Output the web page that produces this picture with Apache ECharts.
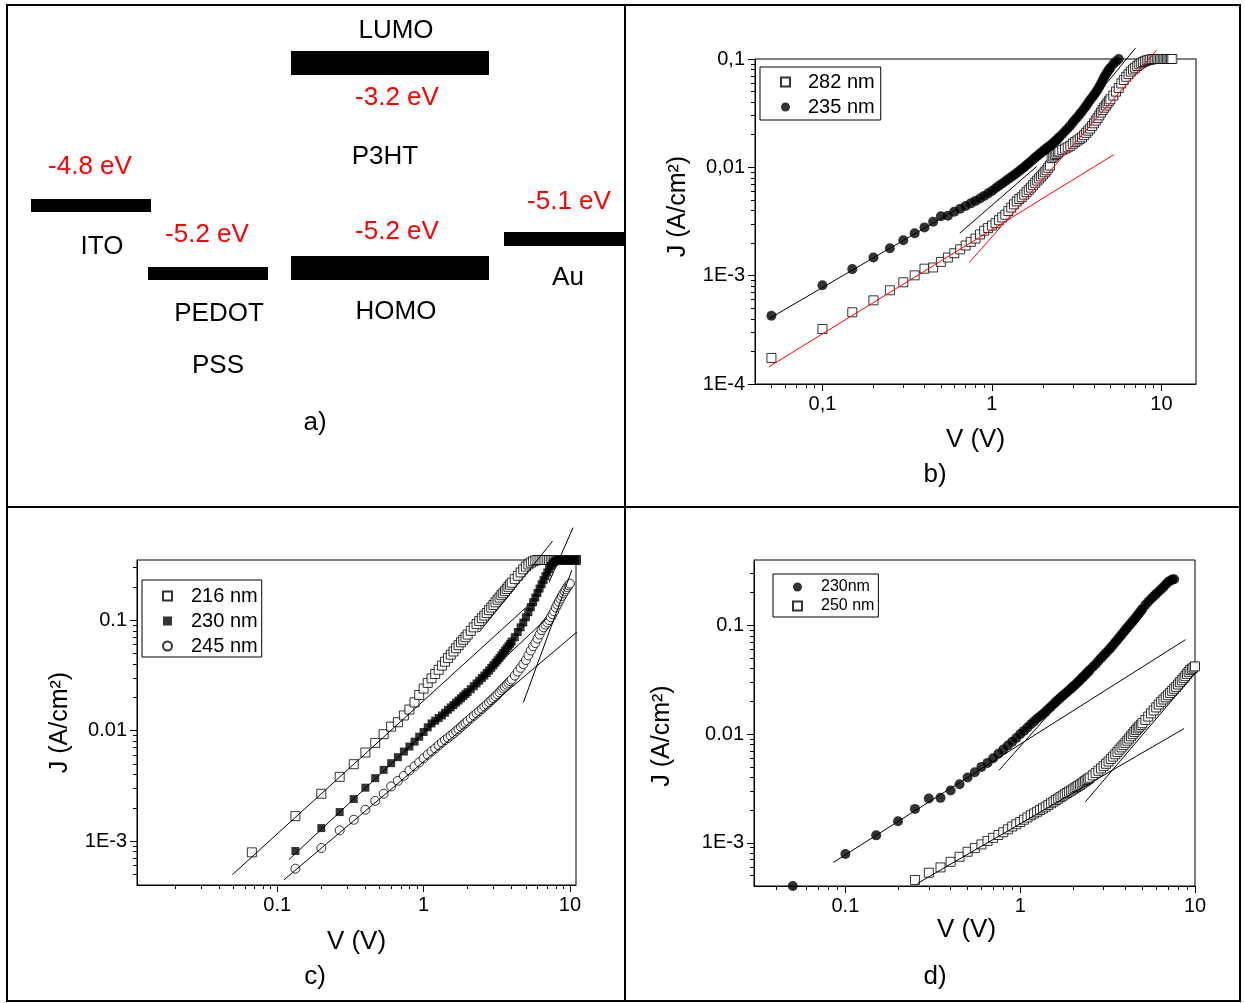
<!DOCTYPE html>
<html><head><meta charset="utf-8">
<script src="https://cdn.jsdelivr.net/npm/echarts@6.0.0/dist/echarts.min.js"></script>
<style>html,body{margin:0;padding:0;background:#fff}#chart{width:1245px;height:1003px}</style>
</head><body><div id="chart"></div>
<script>
// ---------- Panel a: energy levels (eV) ----------
const levelNames = ['ITO', 'PEDOT', 'LUMO', 'HOMO', 'Au'];
const levelEnergies = [-4.8, -5.2, -3.2, -5.2, -5.1];

// ---------- Panel b ----------
const vB = [0.05,0.1,0.15,0.2,0.25,0.3,0.35,0.4,0.45,0.5,0.55,0.6,0.65,0.7,0.75,0.8,0.85,0.9,0.95,1.0,1.05,1.1,1.15,1.2,1.25,1.3,1.35,1.4,1.45,1.5,
  1.55,1.6,1.65,1.7,1.75,1.8,1.85,1.9,1.95,2.0,2.05,2.1,2.15,2.2,2.25,2.3,2.35,2.4,2.45,2.5,
  2.6,2.7,2.8,2.9,3.0,3.1,3.2,3.3,3.4,3.5,3.6,3.7,3.8,3.9,4.0,4.1,4.2,4.3,4.4,4.5,4.6,4.7,4.8,4.9,5.0,
  5.2,5.4,5.6,5.8,6.0,6.2,6.4,6.6,6.8,7.0,7.2,7.4,7.6,7.8,8.0,8.2,8.4,8.6,8.8,9.0,9.2,9.4,9.6,9.8,10.0,10.2,10.4,10.6,10.8,11.0,11.2,11.4,11.6];
const jB282 = [1.74e-4,3.22e-4,4.59e-4,5.92e-4,7.33e-4,8.68e-4,1.007e-3,1.16e-3,1.19e-3,1.34e-3,1.47e-3,1.61e-3,1.75e-3,1.9e-3,2.05e-3,2.2e-3,2.4e-3,2.6e-3,2.75e-3,2.9e-3,3.05e-3,3.25e-3,3.45e-3,3.65e-3,3.95e-3,4.25e-3,4.55e-3,4.85e-3,5.1e-3,5.3e-3,
  5.6e-3,5.9e-3,6.2e-3,6.5e-3,6.85e-3,7.2e-3,7.55e-3,7.9e-3,8.25e-3,8.6e-3,9.0e-3,9.4e-3,9.9e-3,0.0104,0.0122,0.0126,0.0130,0.0133,0.0137,0.0140,
  0.0145,0.0149,0.0153,0.0158,0.0165,0.0171,0.0177,0.0183,0.0189,0.0198,0.0208,0.0218,0.0228,0.0241,0.0255,0.0270,0.0285,0.0302,0.032,0.0338,0.0355,0.0372,0.039,0.0408,0.0425,
  0.046,0.05,0.054,0.0595,0.064,0.0685,0.0725,0.0765,0.08,0.083,0.0862,0.089,0.0915,0.0938,0.0955,0.097,0.098,0.0988,0.0994,0.1,0.1,0.1,0.1,0.1,0.1,0.1,0.1,0.1,0.1,0.1,0.1,0.1,0.1];
const jB235 = [4.27e-4,8.15e-4,1.15e-3,1.47e-3,1.79e-3,2.12e-3,2.46e-3,2.79e-3,3.15e-3,3.53e-3,3.58e-3,3.90e-3,4.15e-3,4.4e-3,4.65e-3,4.9e-3,5.15e-3,5.45e-3,5.75e-3,6.05e-3,6.4e-3,6.75e-3,7.1e-3,7.45e-3,7.8e-3,8.15e-3,8.5e-3,8.85e-3,9.25e-3,9.65e-3,
  0.0100,0.0105,0.0109,0.0114,0.0118,0.0123,0.0127,0.0132,0.0136,0.0141,0.0145,0.0150,0.0154,0.0158,0.0163,0.0168,0.0173,0.0178,0.0184,0.0190,
  0.0202,0.0215,0.0228,0.0242,0.0260,0.0276,0.0292,0.031,0.0328,0.0349,0.0370,0.0394,0.0418,0.0441,0.0465,0.049,0.052,0.0555,0.059,0.0635,0.068,0.072,0.076,0.0795,0.083,
  0.09,0.095,0.1,0.106,0.113];
const fitB235a = [[0.0487,4.03e-4],[0.62,4.1e-3]];
const fitB235b = [[0.646,2.47e-3],[1.84,0.0102]];
const fitB235c = [[3.0,0.025],[7.03,0.126]];
const fitB282a = [[0.0483,1.44e-4],[5.24,0.0131]];
const fitB282b = [[0.735,1.32e-3],[9.35,0.12]];
const xTicksB = [0.1, 1, 10];
const xLabelsB = ['0,1', '1', '10'];
const yTicksB = [1e-4, 1e-3, 0.01, 0.1];
const yLabelsB = ['1E-4', '1E-3', '0,01', '0,1'];

// ---------- Panel c ----------
const vC = [0.067,0.133,0.2,0.267,0.333,0.4,0.467,0.533,0.6,0.667,0.733,0.8,0.867,0.933,1.0,
  1.067,1.133,1.2,1.267,1.333,1.4,1.467,1.533,1.6,1.667,1.733,1.8,1.867,1.933,2.0,
  2.1,2.2,2.3,2.4,2.5,2.6,2.7,2.8,2.9,3.0,3.1,3.2,3.3,3.4,3.5,3.6,3.7,3.8,3.9,4.0,
  4.2,4.4,4.6,4.8,5.0,5.2,5.4,5.6,5.8,6.0,6.2,6.4,6.6,6.8,7.0,7.2,7.4,7.6,7.8,8.0,8.2,8.4,8.6,8.8,9.0,9.2,9.4,9.6,9.8,10.0,10.2,10.4,10.6,10.8,11.0];
const jC216 = [7.9e-4,1.68e-3,2.68e-3,3.81e-3,4.96e-3,6.33e-3,7.74e-3,9.27e-3,0.01086,0.0119,0.0137,0.0155,0.0180,0.0210,0.0240,
  0.0270,0.0297,0.0325,0.0355,0.0387,0.042,0.0453,0.0487,0.052,0.0557,0.0593,0.063,0.0663,0.070,0.074,
  0.080,0.086,0.092,0.098,0.104,0.110,0.116,0.123,0.130,0.137,0.145,0.153,0.160,0.168,0.175,0.183,0.191,0.200,0.209,0.218,
  0.235,0.252,0.27,0.288,0.305,0.319,0.331,0.341,0.347,0.35,0.35,0.35,0.35,0.35,0.35,0.35,0.35,0.35,0.35,0.35,0.35,0.35,0.35,0.35,0.35,0.35,0.35,0.35,0.35,0.35,0.35,0.35,0.35,0.35,0.35];
const jC230 = [null,8.13e-4,1.31e-3,1.83e-3,2.40e-3,3.04e-3,3.71e-3,4.41e-3,5.07e-3,5.74e-3,6.46e-3,7.17e-3,7.94e-3,8.8e-3,9.7e-3,
  0.0107,0.0116,0.0123,0.0130,0.0137,0.0145,0.0154,0.0162,0.0170,0.0179,0.0187,0.0196,0.0205,0.0214,0.0223,
  0.0237,0.0252,0.0267,0.0283,0.0299,0.0315,0.0332,0.0350,0.037,0.0390,0.0411,0.0432,0.0455,0.048,0.0505,0.053,0.0555,0.058,0.061,0.064,
  0.070,0.078,0.086,0.095,0.106,0.118,0.131,0.145,0.160,0.176,0.193,0.211,0.23,0.25,0.27,0.29,0.309,0.325,0.337,0.345,0.349,0.35,0.35,0.35,0.35,0.35,0.35,0.35,0.35,0.35,0.35,0.35,0.35,0.35,0.35];
const jC245 = [null,5.62e-4,8.65e-4,1.25e-3,1.56e-3,1.92e-3,2.31e-3,2.68e-3,3.12e-3,3.51e-3,3.89e-3,4.35e-3,4.75e-3,5.15e-3,5.6e-3,
  6.05e-3,6.5e-3,6.9e-3,7.35e-3,7.8e-3,8.2e-3,8.6e-3,9.0e-3,9.4e-3,9.85e-3,0.0103,0.0108,0.0113,0.0117,0.0122,
  0.0129,0.0136,0.0143,0.0150,0.0157,0.0165,0.0172,0.018,0.0188,0.0196,0.0204,0.0213,0.0222,0.0232,0.0241,0.025,0.026,0.027,0.028,0.029,
  0.0315,0.0342,0.037,0.040,0.0435,0.048,0.053,0.058,0.062,0.068,0.074,0.081,0.086,0.091,0.095,0.1,0.106,0.113,0.12,0.13,0.138,0.147,0.156,0.165,0.174,0.182,0.19,0.199,0.207,0.214,null,null,null,null,null];
const fitC216a = [[0.0494,4.97e-4],[5.2,0.136]];
const fitC216b = [[2.4,0.078],[7.6,0.518]];
const fitC230a = [[0.12,6.78e-4],[6.94,0.1035]];
const fitC230b = [[7.2,0.22],[10.5,0.687]];
const fitC245a = [[0.111,4.45e-4],[20,0.15]];
const fitC245b = [[4.8,0.0179],[10.3,0.283]];
const xTicksC = [0.1, 1, 10];
const xLabelsC = ['0.1', '1', '10'];
const yTicksC = [1e-3, 0.01, 0.1];
const yLabelsC = ['1E-3', '0.01', '0.1'];

// ---------- Panel d ----------
const vD = [0.05,0.1,0.15,0.2,0.25,0.3,0.35,0.4,0.45,0.5,0.55,0.6,0.65,0.7,0.75,0.8,0.85,0.9,0.95,1.0,1.05,1.1,1.15,1.2,1.25,1.3,1.35,1.4,1.45,1.5,
  1.55,1.6,1.65,1.7,1.75,1.8,1.85,1.9,1.95,2.0,2.05,2.1,2.15,2.2,2.25,2.3,2.35,2.4,2.45,2.5,
  2.6,2.7,2.8,2.9,3.0,3.1,3.2,3.3,3.4,3.5,3.6,3.7,3.8,3.9,4.0,4.1,4.2,4.3,4.4,4.5,4.6,4.7,4.8,4.9,5.0,
  5.2,5.4,5.6,5.8,6.0,6.2,6.4,6.6,6.8,7.0,7.2,7.4,7.6,7.8,8.0,8.2,8.4,8.6,8.8,9.0,9.2,9.4,9.6,9.8,10.0];
const jD230 = [4.0e-4,7.87e-4,1.17e-3,1.58e-3,2.05e-3,2.55e-3,2.59e-3,3.03e-3,3.46e-3,3.98e-3,4.45e-3,4.99e-3,5.43e-3,6.0e-3,6.6e-3,7.2e-3,7.85e-3,8.5e-3,9.2e-3,0.0100,0.0107,0.0115,0.0123,0.0131,0.0139,0.0146,0.0153,0.0161,0.0170,0.0179,
  0.0188,0.0198,0.0207,0.0216,0.0225,0.0234,0.0243,0.0253,0.0262,0.0272,0.0282,0.0292,0.0303,0.0314,0.0326,0.0338,0.035,0.0362,0.0375,0.0388,
  0.0414,0.044,0.047,0.050,0.053,0.056,0.059,0.0625,0.066,0.070,0.074,0.078,0.082,0.0865,0.091,0.0955,0.100,0.1045,0.109,0.114,0.119,0.1245,0.130,0.136,0.142,
  0.154,0.165,0.175,0.185,0.195,0.205,0.215,0.226,0.238,0.25,0.258,0.264,0.266,null,null,null,null,null,null,null,null,null,null,null,null];
const jD250 = [null,null,null,null,4.54e-4,5.3e-4,5.93e-4,6.68e-4,7.43e-4,8.26e-4,8.93e-4,9.66e-4,1.04e-3,1.11e-3,1.18e-3,1.25e-3,1.33e-3,1.41e-3,1.48e-3,1.55e-3,1.63e-3,1.71e-3,1.79e-3,1.86e-3,1.93e-3,2.0e-3,2.07e-3,2.15e-3,2.23e-3,2.31e-3,
  2.39e-3,2.47e-3,2.55e-3,2.63e-3,2.71e-3,2.79e-3,2.87e-3,2.95e-3,3.02e-3,3.1e-3,3.18e-3,3.26e-3,3.34e-3,3.42e-3,3.51e-3,3.6e-3,3.69e-3,3.78e-3,3.87e-3,3.97e-3,
  4.17e-3,4.38e-3,4.6e-3,4.83e-3,5.07e-3,5.33e-3,5.6e-3,5.9e-3,6.2e-3,6.52e-3,6.85e-3,7.2e-3,7.55e-3,7.92e-3,8.3e-3,8.7e-3,9.1e-3,9.55e-3,0.0100,0.01045,0.0109,0.0113,0.0117,0.01215,0.0126,
  0.0135,0.0145,0.0155,0.0165,0.0176,0.0187,0.0198,0.0208,0.0218,0.0228,0.0239,0.025,0.0261,0.0272,0.0286,0.03,0.0313,0.0327,0.0341,0.0358,0.0374,0.0388,0.0399,0.041,0.042];
const fitD230a = [[0.0853,6.59e-4],[8.83,0.074]];
const fitD230b = [[0.757,4.65e-3],[1.6,0.018]];
const fitD250a = [[0.258,4.22e-4],[8.66,0.01125]];
const fitD250b = [[2.36,2.38e-3],[11.2,0.045]];
const xTicksD = [0.1, 1, 10];
const xLabelsD = ['0.1', '1', '10'];
const yTicksD = [1e-3, 0.01, 0.1];
const yLabelsD = ['1E-3', '0.01', '0.1'];

// ---------- helpers ----------
const FONT = '"Liberation Sans", Arial, sans-serif';
function pts(v, j) { const out = []; for (let i = 0; i < v.length; i++) { if (j[i] != null) out.push([v[i], j[i]]); } return out; }
function fmt(ticks, labels) {
  return function (val) {
    for (let i = 0; i < ticks.length; i++) if (Math.abs(Math.log10(val) - Math.log10(ticks[i])) < 1e-6) return labels[i];
    return '';
  };
}
function minorVals(min, max) {
  const out = [];
  for (let e = -6; e <= 2; e++) for (let m = 2; m <= 9; m++) { const v = m * Math.pow(10, e); if (v > min * 1.0001 && v < max * 0.9999) out.push(v); }
  return out;
}
function mainAxis(dim, grid, min, max, ticks, labels, name, gap, pad, nameSize) {
  return {
    type: 'log', logBase: 10, gridIndex: grid, min: min, max: max,
    position: dim === 'x' ? 'bottom' : 'left',
    axisLine: { show: true, onZero: false, lineStyle: { color: '#000', width: 1 } },
    axisTick: { show: true, inside: false, length: 7, customValues: ticks, lineStyle: { color: '#000', width: 1 } },
    axisLabel: { show: true, customValues: ticks, formatter: fmt(ticks, labels), fontSize: 20, color: '#000', margin: 10, fontFamily: FONT },
    splitLine: { show: false }, minorTick: { show: false }, minorSplitLine: { show: false },
    name: name, nameLocation: 'middle', nameGap: gap,
    nameTextStyle: { fontSize: nameSize, color: '#000', fontFamily: FONT, padding: pad }
  };
}
function minorAxis(dim, grid, min, max) {
  return {
    type: 'log', logBase: 10, gridIndex: grid, min: min, max: max,
    position: dim === 'x' ? 'bottom' : 'left',
    axisLine: { show: false, onZero: false },
    axisTick: { show: true, inside: false, length: 4, customValues: minorVals(min, max), lineStyle: { color: '#000', width: 1 } },
    axisLabel: { show: false }, splitLine: { show: false }
  };
}
function scat(name, ax, data, symbol, size, filled) {
  return {
    type: 'scatter', name: name, xAxisIndex: ax, yAxisIndex: ax, data: data,
    symbol: symbol, symbolSize: size, z: 3, animation: false,
    itemStyle: filled ? { color: '#000', borderColor: '#000', borderWidth: 0 } : { color: '#fff', borderColor: '#000', borderWidth: 1 }
  };
}
function fit(ax, data, color) {
  return { type: 'line', xAxisIndex: ax, yAxisIndex: ax, data: data, symbol: 'none', clip: false, z: 5, silent: true, animation: false,
    lineStyle: { color: color, width: 1 } };
}

// ---------- panel a layout (schematic positions) ----------
const barBoxes = [ [31,199,120,13], [148,267,120,13], [291,51,198,24], [291,256,198,24], [504,232,121,14] ];
const energyPos = [ [90,167], [207,235], [397,98], [397,232], [569,202] ];
const nameTexts = [ ['ITO',102,247], ['PEDOT',219,314], ['PSS',218,366], ['LUMO',396,31], ['P3HT',385,157], ['HOMO',396,312], ['Au',568,278] ];
const panelLabels = [ ['a)',315,423], ['b)',935,475], ['c)',315,977], ['d)',935,977] ];

const graphic = [];
graphic.push({ type: 'rect', shape: { x: 7, y: 5, width: 1233, height: 996 }, style: { fill: 'none', stroke: '#000', lineWidth: 2 }, z: 0 });
graphic.push({ type: 'line', shape: { x1: 625, y1: 5, x2: 625, y2: 1001 }, style: { stroke: '#000', lineWidth: 2 } });
graphic.push({ type: 'line', shape: { x1: 7, y1: 507, x2: 1240, y2: 507 }, style: { stroke: '#000', lineWidth: 2 } });
barBoxes.forEach(function (b) { graphic.push({ type: 'rect', shape: { x: b[0], y: b[1], width: b[2], height: b[3] }, style: { fill: '#000' } }); });
levelEnergies.forEach(function (e, i) {
  graphic.push({ type: 'text', x: energyPos[i][0], y: energyPos[i][1],
    style: { text: e.toFixed(1) + ' eV', fill: '#ff0000', font: '26px ' + FONT, align: 'center', verticalAlign: 'middle', textAlign: 'center', textVerticalAlign: 'middle' } });
});
nameTexts.concat(panelLabels).forEach(function (t) {
  graphic.push({ type: 'text', x: t[1], y: t[2],
    style: { text: t[0], fill: '#000', font: '26px ' + FONT, align: 'center', verticalAlign: 'middle', textAlign: 'center', textVerticalAlign: 'middle' } });
});

const option = {
  animation: false,
  backgroundColor: '#fff',
  textStyle: { fontFamily: FONT },
  grid: [
    { left: 755, top: 59, width: 441, height: 325, show: true, borderColor: '#000', borderWidth: 1, backgroundColor: 'transparent' },
    { left: 137, top: 560, width: 439, height: 325, show: true, borderColor: '#000', borderWidth: 1, backgroundColor: 'transparent' },
    { left: 754, top: 560, width: 441, height: 326, show: true, borderColor: '#000', borderWidth: 1, backgroundColor: 'transparent' }
  ],
  xAxis: [
    mainAxis('x', 0, 0.04, 16, xTicksB, xLabelsB, 'V (V)', 43, [0,0,0,0], 26),
    minorAxis('x', 0, 0.04, 16),
    mainAxis('x', 1, 0.011, 11, xTicksC, xLabelsC, 'V (V)', 44, [0,0,0,0], 26),
    minorAxis('x', 1, 0.011, 11),
    mainAxis('x', 2, 0.03, 10, xTicksD, xLabelsD, 'V (V)', 27, [0,16,0,0], 26),
    minorAxis('x', 2, 0.03, 10)
  ],
  yAxis: [
    mainAxis('y', 0, 1e-4, 0.1, yTicksB, yLabelsB, 'J (A/cm²)', 64, [0,0,0,30], 25),
    minorAxis('y', 0, 1e-4, 0.1),
    mainAxis('y', 1, 4e-4, 0.35, yTicksC, yLabelsC, 'J (A/cm²)', 64, [0,0,0,0], 25),
    minorAxis('y', 1, 4e-4, 0.35),
    mainAxis('y', 2, 4e-4, 0.4, yTicksD, yLabelsD, 'J (A/cm²)', 79, [0,26,0,0], 25),
    minorAxis('y', 2, 4e-4, 0.4)
  ],
  legend: [
    { data: ['282 nm', '235 nm'], orient: 'vertical', left: 760, top: 67, padding: [5, 6, 3, 20], itemGap: 5,
      itemWidth: 9, itemHeight: 9, borderColor: '#000', borderWidth: 1, borderRadius: 0, selectedMode: false,
      textStyle: { fontSize: 20, color: '#000', fontFamily: FONT, padding: [0, 0, 0, 13] } },
    { data: ['216 nm', '230 nm', '245 nm'], orient: 'vertical', left: 142, top: 580, padding: [6, 4, 1, 20], itemGap: 5,
      itemWidth: 9, itemHeight: 9, borderColor: '#000', borderWidth: 1, borderRadius: 0, selectedMode: false,
      textStyle: { fontSize: 20, color: '#000', fontFamily: FONT, padding: [0, 0, 0, 14] } },
    { data: ['230nm', '250 nm'], orient: 'vertical', left: 773, top: 574, padding: [5, 4, 3, 19], itemGap: 3,
      itemWidth: 9, itemHeight: 9, borderColor: '#000', borderWidth: 1, borderRadius: 0, selectedMode: false,
      textStyle: { fontSize: 16, color: '#000', fontFamily: FONT, padding: [0, 0, 0, 14] } }
  ],
  graphic: graphic,
  series: [
    scat('282 nm', 0, pts(vB, jB282), 'rect', 9, false),
    scat('235 nm', 0, pts(vB, jB235), 'circle', 10, true),
    fit(0, fitB235a, '#000'), fit(0, fitB235b, '#000'), fit(0, fitB235c, '#000'),
    fit(0, fitB282a, '#ff0000'), fit(0, fitB282b, '#ff0000'),
    scat('216 nm', 2, pts(vC, jC216), 'rect', 9, false),
    scat('230 nm', 2, pts(vC, jC230), 'rect', 8, true),
    scat('245 nm', 2, pts(vC, jC245), 'circle', 9, false),
    fit(2, fitC216a, '#000'), fit(2, fitC216b, '#000'), fit(2, fitC230a, '#000'),
    fit(2, fitC230b, '#000'), fit(2, fitC245a, '#000'), fit(2, fitC245b, '#000'),
    scat('230nm', 4, pts(vD, jD230), 'circle', 10, true),
    scat('250 nm', 4, pts(vD, jD250), 'rect', 9, false),
    fit(4, fitD230a, '#000'), fit(4, fitD230b, '#000'), fit(4, fitD250a, '#000'), fit(4, fitD250b, '#000')
  ]
};
const chart = echarts.init(document.getElementById('chart'), null, { renderer: 'canvas', width: 1245, height: 1003 });
chart.setOption(option);
</script></body></html>
